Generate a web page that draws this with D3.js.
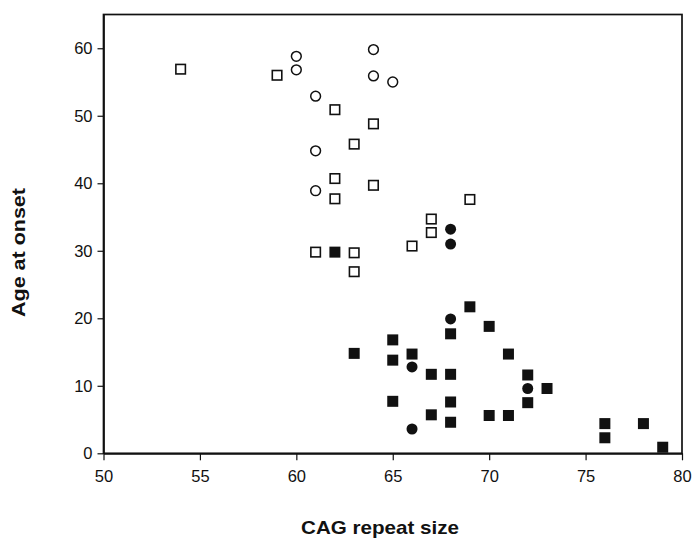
<!DOCTYPE html>
<html>
<head>
<meta charset="utf-8">
<script src="https://cdn.jsdelivr.net/npm/d3@7"></script>
<style>
  body { margin: 0; background: #fff; }
  svg { display: block; font-family: "Liberation Sans", Arial, sans-serif; }
</style>
</head>
<body>
<div id="chart"></div>
<script>
// values: [CAG repeat size, age at onset]
const openSquares = [
  [54, 56.9], [59, 56.0], [62, 50.9], [64, 48.8], [63, 45.8], [62, 40.7],
  [64, 39.7], [62, 37.7], [61, 29.8], [63, 29.7], [63, 26.9], [66, 30.7],
  [69, 37.6], [67, 34.7], [67, 32.7]
];
const openCircles = [
  [60, 58.8], [60, 56.8], [61, 52.9], [64, 59.8], [64, 55.9], [65, 55.0],
  [61, 44.8], [61, 38.9]
];
const filledSquares = [
  [62, 29.8], [63, 14.8], [65, 16.8], [65, 13.8], [65, 7.7], [69, 21.7],
  [70, 18.8], [68, 17.7], [66, 14.7], [71, 14.7], [67, 11.7], [68, 11.7],
  [72, 11.6], [73, 9.6], [68, 7.6], [72, 7.5], [67, 5.7], [70, 5.6],
  [71, 5.6], [68, 4.6], [76, 4.4], [76, 2.3], [78, 4.4], [79, 0.9]
];
const filledCircles = [
  [68, 33.2], [68, 31.0], [68, 19.9], [66, 12.8], [72, 9.6], [66, 3.6]
];
const xTicks = [50, 55, 60, 65, 70, 75, 80];
const yTicks = [0, 10, 20, 30, 40, 50, 60];

const W = 693, H = 538;
const svg = d3.select("#chart").append("svg")
  .attr("width", W).attr("height", H);

const x = d3.scaleLinear().domain([50, 80]).range([103.5, 682]);
const y = d3.scaleLinear().domain([0, 65]).range([453.3, 14.5]);

// frame
svg.append("rect")
  .attr("x", x(50)).attr("y", y(65))
  .attr("width", x(80) - x(50)).attr("height", y(0) - y(65))
  .attr("fill", "none").attr("stroke", "#111").attr("stroke-width", 1.7);

const xAxis = svg.append("g")
  .attr("transform", `translate(0,${y(0)})`)
  .call(d3.axisBottom(x).tickValues(xTicks).tickSize(7).tickSizeOuter(0).tickPadding(10));
const yAxis = svg.append("g")
  .attr("transform", `translate(${x(50)},0)`)
  .call(d3.axisLeft(y).tickValues(yTicks).tickSize(6).tickSizeOuter(0).tickPadding(5));

[xAxis, yAxis].forEach(g => {
  g.select(".domain").attr("stroke", "#111").attr("stroke-width", 1.7);
  g.selectAll(".tick line").attr("stroke", "#111").attr("stroke-width", 1.2);
  g.selectAll(".tick text")
    .attr("fill", "#111")
    .style("font-family", "'Liberation Sans', Arial, sans-serif")
    .style("font-size", "16.5px");
});

const s = 11; // marker size

svg.append("g").selectAll("rect")
  .data(openSquares).join("rect")
  .attr("x", d => x(d[0]) - s / 2 + 0.75).attr("y", d => y(d[1]) - s / 2 + 0.75)
  .attr("width", s - 1.5).attr("height", s - 1.5)
  .attr("fill", "#fff").attr("stroke", "#111").attr("stroke-width", 1.6);

svg.append("g").selectAll("rect")
  .data(filledSquares).join("rect")
  .attr("x", d => x(d[0]) - s / 2).attr("y", d => y(d[1]) - s / 2)
  .attr("width", s).attr("height", s)
  .attr("fill", "#111");

svg.append("g").selectAll("circle")
  .data(openCircles).join("circle")
  .attr("cx", d => x(d[0])).attr("cy", d => y(d[1]))
  .attr("r", 4.9)
  .attr("fill", "#fff").attr("stroke", "#111").attr("stroke-width", 1.5);

svg.append("g").selectAll("circle")
  .data(filledCircles).join("circle")
  .attr("cx", d => x(d[0])).attr("cy", d => y(d[1]))
  .attr("r", 5.5)
  .attr("fill", "#111");

// axis titles
svg.append("text")
  .attr("x", 301).attr("y", 534)
  .attr("textLength", 158).attr("lengthAdjust", "spacingAndGlyphs")
  .style("font-size", "19px").style("font-weight", "bold")
  .attr("fill", "#111")
  .text("CAG repeat size");

svg.append("text")
  .attr("transform", "translate(25,317) rotate(-90)")
  .attr("textLength", 129).attr("lengthAdjust", "spacingAndGlyphs")
  .style("font-size", "18.5px").style("font-weight", "bold")
  .attr("fill", "#111")
  .text("Age at onset");
</script>
</body>
</html>
